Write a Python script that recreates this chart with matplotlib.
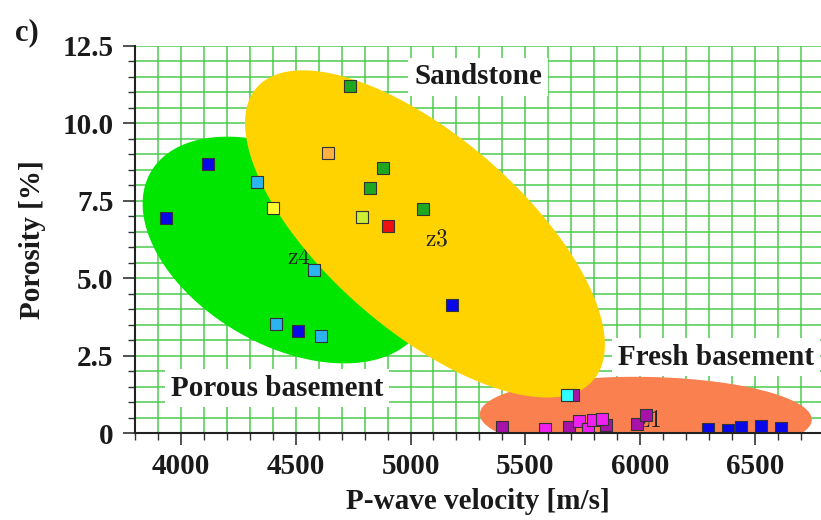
import numpy as np
import matplotlib
matplotlib.use("Agg")
import matplotlib.pyplot as plt
from matplotlib.ticker import MultipleLocator

plt.rcParams['font.family'] = ['Liberation Serif', 'DejaVu Serif']
plt.rcParams['font.weight'] = 'bold'
plt.rcParams['axes.labelweight'] = 'bold'
plt.rcParams['mathtext.fontset'] = 'cm'

# samples: P-wave velocity [m/s], porosity [%], colour
blue_v = [3935, 4120, 4510, 5180, 6295, 6385, 6440, 6525, 6615]
blue_p = [6.95, 8.7, 3.3, 4.15, 0.12, 0.1, 0.2, 0.22, 0.15]
ltblue_v = [4330, 4580, 4415, 4610]
ltblue_p = [8.1, 5.25, 3.52, 3.13]
green_v = [4735, 4880, 4825, 5055]
green_p = [11.2, 8.55, 7.9, 7.23]
yellow_v = [4400]
yellow_p = [7.27]
orange_v = [4640]
orange_p = [9.05]
lime_v = [4790]
lime_p = [6.97]
red_v = [4900]
red_p = [6.7]
purple_v = [5708, 5400, 5690, 5850, 5985, 6025]
purple_p = [1.23, 0.2, 0.2, 0.27, 0.3, 0.57]
magenta_v = [5585, 5735, 5775, 5795, 5835]
magenta_p = [0.12, 0.4, 0.12, 0.42, 0.45]
cyan_v = [5680]
cyan_p = [1.23]

groups = [
    (purple_v, purple_p, '#a812a8'),
    (magenta_v, magenta_p, '#f020f0'),
    (blue_v, blue_p, '#0808e8'),
    (ltblue_v, ltblue_p, '#2cb4f0'),
    (green_v, green_p, '#1fa81f'),
    (yellow_v, yellow_p, '#ffff30'),
    (orange_v, orange_p, '#ffb040'),
    (lime_v, lime_p, '#ccee33'),
    (red_v, red_p, '#ee1010'),
    (cyan_v, cyan_p, '#30ffff'),
]

# rock-type fields: centre (m/s, %), semi-axes in px, tilt in degrees
fields = {
    'porous': (4457, 5.91, 156, 95, -30, '#00e600'),
    'fresh': (6025, 0.52, 166, 40, -1, '#fa8050'),
    'sand': (5063, 6.43, 223, 97, -41, '#ffd300'),
}

xticks = [4000, 4500, 5000, 5500, 6000, 6500]
yticks = [0, 2.5, 5.0, 7.5, 10.0, 12.5]
ytick_labels = ['0', '2.5', '5.0', '7.5', '10.0', '12.5']

fig = plt.figure(figsize=(8.21, 5.2), dpi=100)
ax = fig.add_axes([135 / 821, 87 / 520, 686 / 821, 387 / 520])
ax.set_xlim(3800, 6788)
ax.set_ylim(0, 12.5)

# pixels per data unit, used to draw the fields as true ellipses on screen
sx = ax.bbox.width / (6788 - 3800)
sy = ax.bbox.height / 12.5


def field(key, z):
    cx, cy, a, b, ang, col = fields[key]
    t = np.linspace(0, 2 * np.pi, 300)
    th = np.radians(ang)
    u = a * np.cos(t)
    v = b * np.sin(t)
    xr = u * np.cos(th) - v * np.sin(th)
    yr = u * np.sin(th) + v * np.cos(th)
    ax.fill(cx + xr / sx, cy + yr / sy, color=col, lw=0, zorder=z)


field('porous', 1)
field('fresh', 1.2)
field('sand', 2)

ax.text(4462, 5.65, r'$\mathrm{z4}$', fontsize=17, color='#222222',
        ha='left', va='center', zorder=1.5)
ax.text(5063, 6.23, r'$\mathrm{z3}$', fontsize=17, color='#222222',
        ha='left', va='center', zorder=2.5)
ax.text(5995, 0.38, r'$\mathrm{z1}$', fontsize=17, color='#222222',
        ha='left', va='center', zorder=2.5)

for v, p, c in groups:
    ax.scatter(v, p, marker='s', s=64, c=c, edgecolors='#333333',
               linewidths=0.8, zorder=3)

box = dict(boxstyle='square,pad=0.2', fc='white', ec='none')
ax.text(5294, 11.5, 'Sandstone', fontsize=21, ha='center', va='center',
        color='#1a1a1a', bbox=box, zorder=4)
ax.text(4420, 1.45, 'Porous basement', fontsize=21, ha='center', va='center',
        color='#1a1a1a', bbox=box, zorder=4)
ax.text(6332, 2.45, 'Fresh basement', fontsize=21, ha='center', va='center',
        color='#1a1a1a', bbox=box, zorder=4)

ax.set_xticks(xticks)
ax.set_yticks(yticks)
ax.set_yticklabels(ytick_labels)
ax.xaxis.set_minor_locator(MultipleLocator(100))
ax.yaxis.set_minor_locator(MultipleLocator(0.5))
ax.grid(which='both', color='#4ccb4c', lw=1.1)
ax.set_axisbelow(True)
ax.tick_params(which='major', length=8.5, width=1.2, labelsize=21,
               color='#333333', labelcolor='#1a1a1a', pad=6)
ax.tick_params(which='minor', length=5, width=1.0, color='#333333')
ax.tick_params(axis='y', pad=7)

for s in ['top', 'right']:
    ax.spines[s].set_visible(False)
for s in ['left', 'bottom']:
    ax.spines[s].set_color('#222222')
    ax.spines[s].set_linewidth(1.5)
    ax.spines[s].set_zorder(5)

ax.set_xlabel('P-wave velocity [m/s]', fontsize=21, fontweight='bold',
              color='#1a1a1a', labelpad=6)
ax.set_ylabel('Porosity [%]', fontsize=21, fontweight='bold',
              color='#1a1a1a', labelpad=12)

fig.text(15 / 821, 1 - 33 / 520, 'c)', fontsize=22, fontweight='bold',
         ha='left', va='center', color='#1a1a1a')

fig.savefig('out.png', dpi=100)
